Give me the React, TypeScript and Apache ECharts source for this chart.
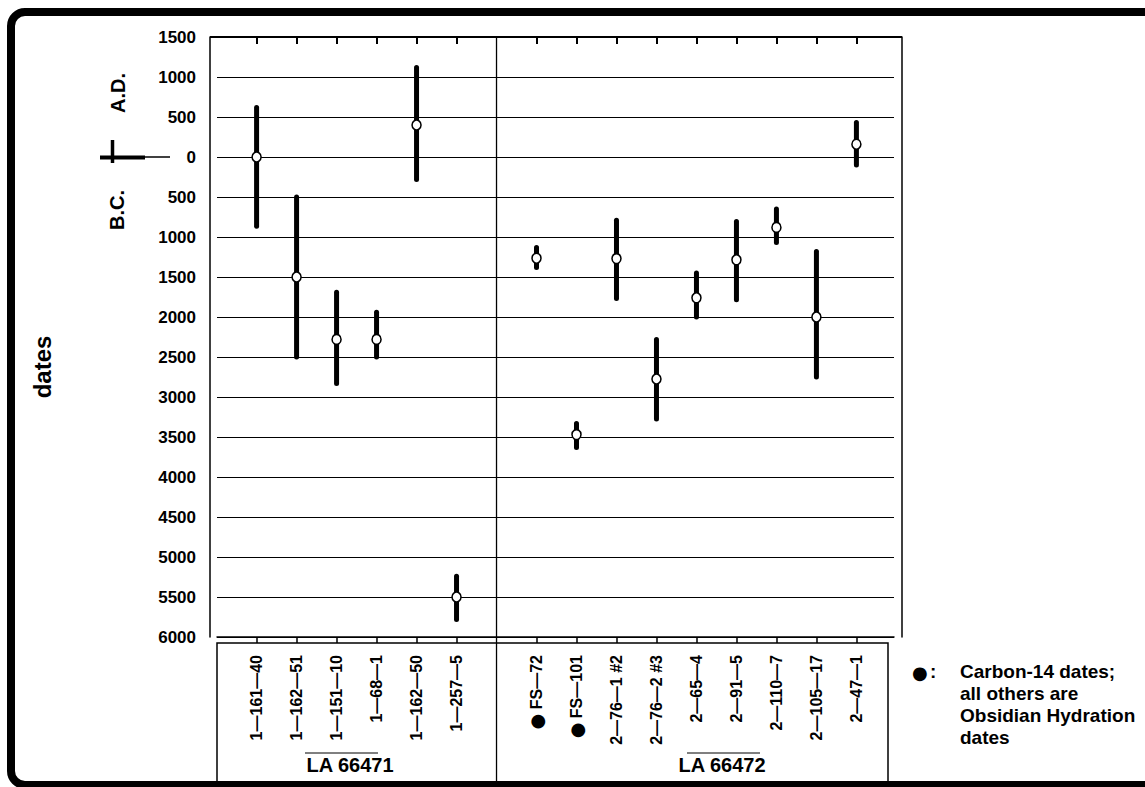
import React, { useEffect, useRef } from "react";
import * as echarts from "echarts";

// ---- data ----
const sampleLabels = [
  "1—161—40", "1—162—51", "1—151—10", "1—68—1", "1—162—50", "1—257—5",
  "FS—72", "FS—101", "2—76—1 #2", "2—76—2 #3", "2—65—4", "2—91—5", "2—110—7", "2—105—17", "2—47—1",
];
// slot along the x axis (slot 6 is the gap between the two sites)
const slotPositions = [0, 1, 2, 3, 4, 5, 7, 8, 9, 10, 11, 12, 13, 14, 15];
const carbon14 = [false, false, false, false, false, false, true, true, false, false, false, false, false, false, false];
// signed years: A.D. positive, B.C. negative
const centerDates = [0, -1500, -2280, -2280, 400, -5500, -1265, -3470, -1270, -2775, -1760, -1285, -880, -2000, 160];
const upperDates = [620, -500, -1690, -1940, 1120, -5240, -1130, -3330, -790, -2280, -1450, -805, -650, -1180, 430];
const lowerDates = [-865, -2500, -2830, -2500, -280, -5780, -1380, -3630, -1770, -3275, -2000, -1785, -1070, -2750, -100];
const siteNames = ["LA 66471", "LA 66472"];
const legendLines = ["Carbon-14 dates;", "all others are", "Obsidian Hydration", "dates"];

const FONT = "'Liberation Sans', Arial, Helvetica, sans-serif";
const X_MIN = -0.99;
const X_MAX = 15.94;

export default function App() {
  const ref = useRef<HTMLDivElement>(null);

  useEffect(() => {
    if (!ref.current) return;
    const chart = echarts.init(ref.current, null, { renderer: "svg" });

    const rangeData = slotPositions.map((p, i) => [p, lowerDates[i], upperDates[i]]);
    const centerData = slotPositions.map((p, i) => [p, centerDates[i]]);

    const labelFor = (v: number) => {
      const i = slotPositions.indexOf(Math.round(v));
      if (i < 0) return "";
      return carbon14[i] ? "{dot|●} " + sampleLabels[i] : sampleLabels[i];
    };

    chart.setOption({
      animation: false,
      backgroundColor: "#fff",
      textStyle: { fontFamily: FONT },
      grid: { left: 217, right: 251, top: 37, bottom: 150 },
      xAxis: [
        {
          type: "value",
          position: "bottom",
          min: X_MIN,
          max: X_MAX,
          splitLine: { show: false },
          axisLine: { show: true, onZero: false, lineStyle: { color: "#000", width: 1.5 } },
          axisTick: { show: true, customValues: slotPositions, length: 6, lineStyle: { color: "#000", width: 1.5 } },
          axisLabel: {
            show: true,
            customValues: slotPositions,
            rotate: 90,
            margin: 18,
            color: "#000",
            fontSize: 16,
            fontWeight: "bold",
            fontFamily: FONT,
            formatter: (v: number) => labelFor(v),
            rich: {
              dot: { fontSize: 18, color: "#000", fontFamily: "'DejaVu Sans', sans-serif" },
            },
          },
        },
        {
          type: "value",
          position: "top",
          min: X_MIN,
          max: X_MAX,
          splitLine: { show: false },
          axisLine: { show: false, onZero: false },
          axisTick: { show: true, inside: true, customValues: slotPositions, length: 7, lineStyle: { color: "#000", width: 2 } },
          axisLabel: { show: false },
        },
      ],
      yAxis: [
        {
          type: "value",
          position: "left",
          offset: 7,
          min: -6000,
          max: 1500,
          interval: 500,
          axisLine: { show: true, onZero: false, lineStyle: { color: "#000", width: 1.5 } },
          axisTick: { show: false },
          splitLine: { show: true, lineStyle: { color: "#000", width: 1 } },
          axisLabel: {
            color: "#000",
            fontSize: 17,
            fontWeight: "bold",
            fontFamily: FONT,
            margin: 14,
            formatter: (v: number) => String(Math.abs(v)),
          },
        },
        {
          type: "value",
          position: "right",
          offset: 8,
          min: -6000,
          max: 1500,
          interval: 500,
          axisLine: { show: true, onZero: false, lineStyle: { color: "#000", width: 1.5 } },
          axisTick: { show: false },
          splitLine: { show: false },
          axisLabel: { show: false },
        },
      ],
      series: [
        {
          type: "custom",
          xAxisIndex: 0,
          yAxisIndex: 0,
          data: rangeData,
          renderItem: (params: any, api: any) => {
            const x = api.value(0);
            const lo = api.coord([x, api.value(1)]);
            const hi = api.coord([x, api.value(2)]);
            return {
              type: "line",
              shape: { x1: lo[0], y1: lo[1], x2: hi[0], y2: hi[1] },
              style: { stroke: "#000", lineWidth: 5, lineCap: "round" },
            };
          },
          z: 3,
        },
        {
          type: "scatter",
          xAxisIndex: 0,
          yAxisIndex: 0,
          data: centerData,
          symbol: "circle",
          symbolSize: [9, 10],
          itemStyle: { color: "#fff", borderColor: "#000", borderWidth: 1.6, opacity: 1 },
          z: 5,
        },
      ],
    });

    const divX = chart.convertToPixel({ xAxisIndex: 0 }, 6) as number;
    const t = (x: number, y: number, text: string, size: number, extra: any = {}) => ({
      type: "text",
      x,
      y,
      style: {
        text,
        fill: "#000",
        font: `bold ${size}px ${FONT}`,
        textAlign: "left",
        textVerticalAlign: "middle",
        ...extra.style,
      },
      ...extra.props,
    });

    chart.setOption({
      graphic: [
        // outer frame
        { type: "rect", shape: { x: 11, y: 12, width: 1150, height: 773, r: 14 }, style: { fill: "none", stroke: "#000", lineWidth: 8 }, z: 10 },
        // top line of plot
        { type: "line", shape: { x1: 210, y1: 37, x2: 902, y2: 37 }, style: { stroke: "#000", lineWidth: 2 }, z: 10 },
        // divider between sites
        { type: "line", shape: { x1: divX, y1: 37, x2: divX, y2: 783 }, style: { stroke: "#000", lineWidth: 1.3 }, z: 10 },
        // label box
        { type: "rect", shape: { x: 217, y: 643, width: 671, height: 142 }, style: { fill: "none", stroke: "#000", lineWidth: 1.5 }, z: 9 },
        // site names
        t(350, 765, siteNames[0], 20, { style: { textAlign: "center" } }),
        t(722, 765, siteNames[1], 20, { style: { textAlign: "center" } }),
        { type: "line", shape: { x1: 305, y1: 753, x2: 378, y2: 753 }, style: { stroke: "#000", lineWidth: 1 } },
        { type: "line", shape: { x1: 687, y1: 753, x2: 760, y2: 753 }, style: { stroke: "#000", lineWidth: 1 } },
        // y title
        t(42, 367, "dates", 24, { style: { textAlign: "center" }, props: { rotation: Math.PI / 2 } }),
        t(118, 93, "A.D.", 20, { style: { textAlign: "center" }, props: { rotation: Math.PI / 2 } }),
        t(117, 210, "B.C.", 20, { style: { textAlign: "center" }, props: { rotation: Math.PI / 2 } }),
        // era marker
        { type: "line", shape: { x1: 100, y1: 157.5, x2: 145, y2: 157.5 }, style: { stroke: "#000", lineWidth: 4 } },
        { type: "line", shape: { x1: 145, y1: 157, x2: 170, y2: 157 }, style: { stroke: "#000", lineWidth: 1.5 } },
        { type: "line", shape: { x1: 112.5, y1: 140, x2: 112.5, y2: 163 }, style: { stroke: "#000", lineWidth: 3.5 } },
        // legend
        t(912, 672, "●", 18, { style: { font: `18px 'DejaVu Sans', sans-serif` } }),
        t(930, 671, ":", 19),
        t(960, 671, legendLines[0], 19),
        t(960, 693, legendLines[1], 19),
        t(960, 715, legendLines[2], 19),
        t(960, 737, legendLines[3], 19),
      ],
    });

    return () => chart.dispose();
  }, []);

  return (
    <div
      ref={ref}
      style={{ position: "fixed", left: 0, top: 0, width: 1145, height: 787, background: "#fff" }}
    />
  );
}
